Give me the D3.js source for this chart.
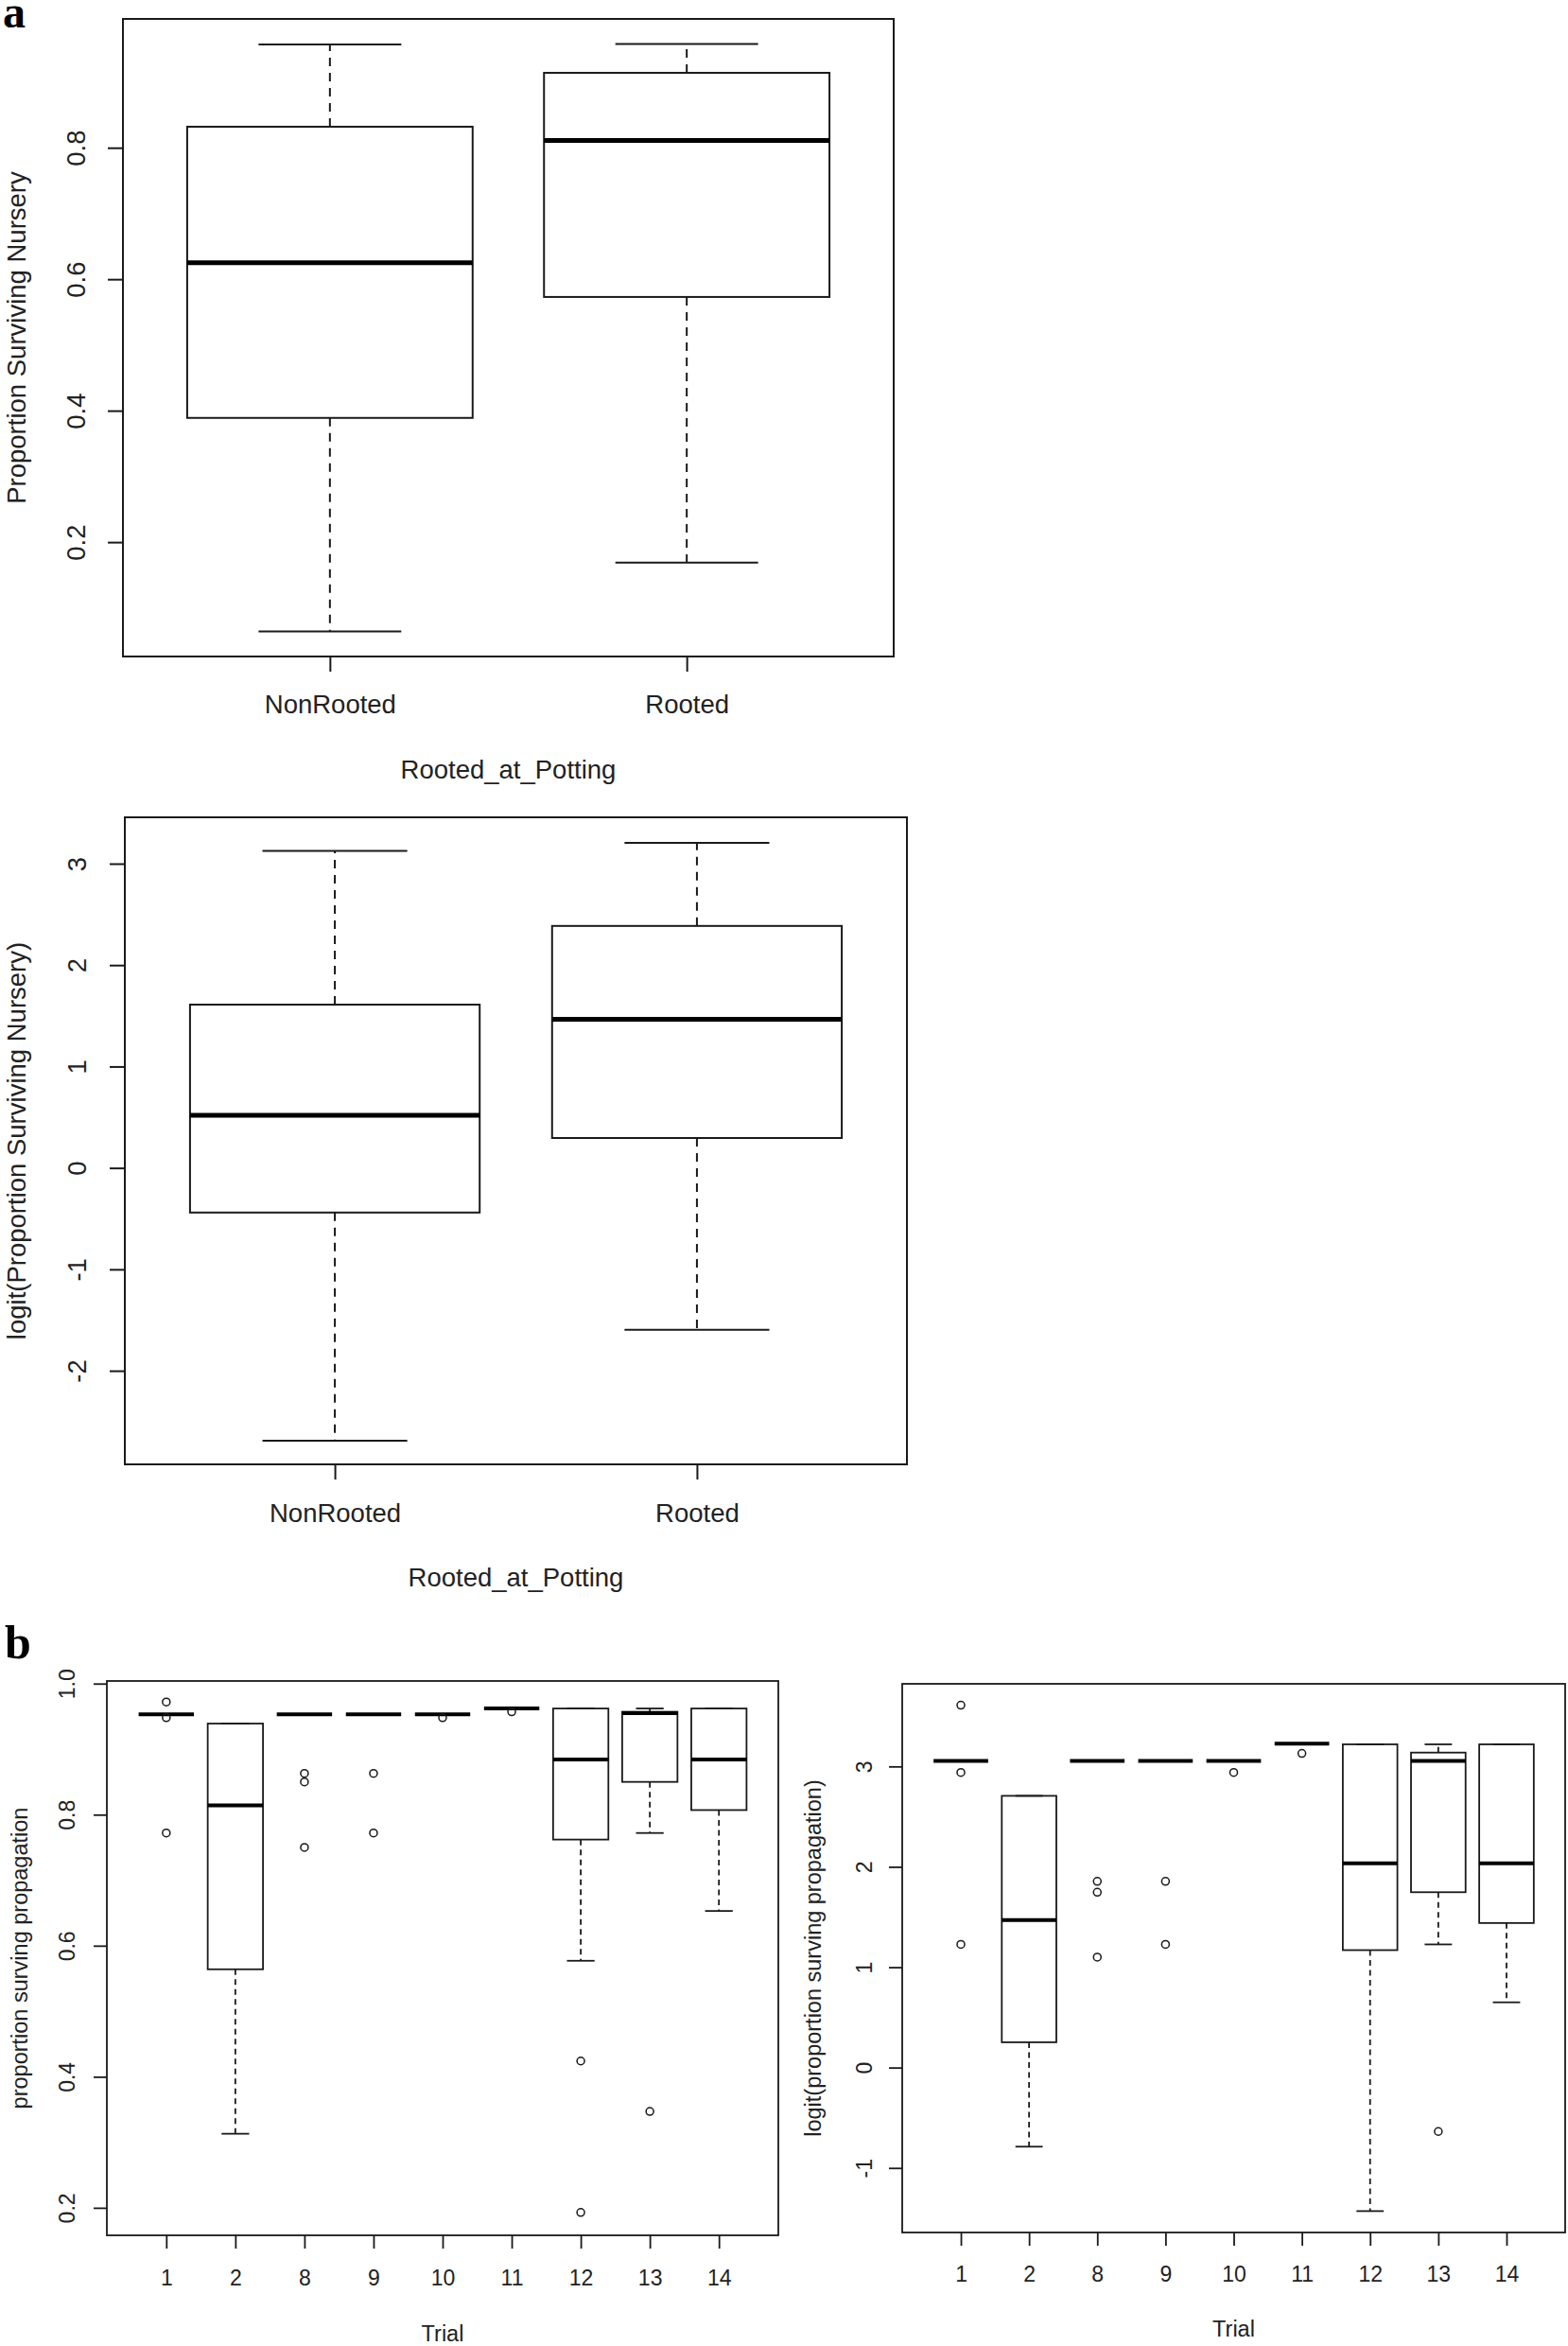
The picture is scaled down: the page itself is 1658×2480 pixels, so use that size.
<!DOCTYPE html>
<html>
<head>
<meta charset="utf-8">
<script src="https://cdn.jsdelivr.net/npm/d3@7"></script>
<style>
  html, body { margin: 0; padding: 0; background: #fff; }
  svg { display: block; }
</style>
</head>
<body>
<script>
// ---------------- DATA ----------------
// Panel a: box statistics [lower whisker, Q1, median, Q3, upper whisker]
const nurseryGroups = ["NonRooted", "Rooted"];
const nurseryPropStats = [
  [0.064, 0.389, 0.625, 0.832, 0.957],
  [0.169, 0.573, 0.811, 0.914, 0.958]
];
const nurseryLogitStats = [
  [-2.69, -0.44, 0.52, 1.61, 3.125],
  [-1.597, 0.295, 1.466, 2.386, 3.205]
];
const nurseryPropTicks = [0.2, 0.4, 0.6, 0.8];
const nurseryLogitTicks = [-2, -1, 0, 1, 2, 3];
const nurseryXTitle = "Rooted_at_Potting";
const nurseryPropTitle = "Proportion Surviving Nursery";
const nurseryLogitTitle = "logit(Proportion Surviving Nursery)";

// Panel b
const trials = ["1", "2", "8", "9", "10", "11", "12", "13", "14"];
const propStats = [
  [0.953, 0.953, 0.953, 0.953, 0.953],
  [0.313, 0.564, 0.814, 0.939, 0.939],
  [0.953, 0.953, 0.953, 0.953, 0.953],
  [0.953, 0.953, 0.953, 0.953, 0.953],
  [0.953, 0.953, 0.953, 0.953, 0.953],
  [0.962, 0.962, 0.962, 0.962, 0.962],
  [0.577, 0.762, 0.884, 0.962, 0.962],
  [0.772, 0.850, 0.955, 0.957, 0.962],
  [0.653, 0.807, 0.884, 0.962, 0.962]
];
const propOutliers = [
  [0.972, 0.948, 0.772],
  [],
  [0.863, 0.850, 0.750],
  [0.863, 0.772],
  [0.948],
  [0.957],
  [0.424, 0.193],
  [0.347],
  []
];
const logitStats = [
  [3.054, 3.054, 3.054, 3.054, 3.054],
  [-0.788, 0.252, 1.47, 2.707, 2.707],
  [3.054, 3.054, 3.054, 3.054, 3.054],
  [3.054, 3.054, 3.054, 3.054, 3.054],
  [3.054, 3.054, 3.054, 3.054, 3.054],
  [3.227, 3.227, 3.227, 3.227, 3.227],
  [-1.43, 1.17, 2.034, 3.22, 3.22],
  [1.227, 1.747, 3.054, 3.138, 3.22],
  [0.65, 1.44, 2.034, 3.22, 3.22]
];
const logitOutliers = [
  [3.61, 2.94, 1.227],
  [],
  [1.855, 1.747, 1.10],
  [1.855, 1.227],
  [2.94],
  [3.13],
  [],
  [-0.637],
  []
];
const propTicks = [0.2, 0.4, 0.6, 0.8, 1.0];
const logitTicks = [-1, 0, 1, 2, 3];
const trialXTitle = "Trial";
const propTitle = "proportion surving propagation";
const logitTitle = "logit(proportion surving propagation)";

// ---------------- DRAWING ----------------
const W = 1658, H = 2480;
const ink = "#1a1a1a";
const txt = "#222";
const sans = "'Liberation Sans', Arial, sans-serif";

const svg = d3.select("body").append("svg")
  .attr("width", W).attr("height", H)
  .attr("viewBox", `0 0 ${W} ${H}`);

svg.append("rect").attr("width", W).attr("height", H).attr("fill", "#fff");

function panel(cfg) {
  const g = svg.append("g");
  const n = cfg.cats.length;
  const x = d3.scaleLinear().domain([0.5 - 0.04 * n, n + 0.5 + 0.04 * n]).range([cfg.left, cfg.right]);
  const y = d3.scaleLinear().domain(cfg.yDomain).range([cfg.bottom, cfg.top]);

  // y axis
  const yg = g.append("g").attr("transform", `translate(${cfg.left},0)`)
    .call(d3.axisLeft(y).tickValues(cfg.yTicks).tickSize(cfg.tick).tickFormat(cfg.fmt));
  yg.select(".domain").remove();
  yg.selectAll(".tick line").attr("stroke", ink).attr("stroke-width", cfg.lw);
  yg.selectAll(".tick text")
    .attr("x", null).attr("dy", "0.36em")
    .attr("transform", `translate(${-cfg.yLabOff},0) rotate(-90)`)
    .attr("text-anchor", "middle")
    .attr("fill", txt)
    .style("font-family", sans).style("font-size", cfg.fs + "px");

  // x axis
  const xg = g.append("g").attr("transform", `translate(0,${cfg.bottom})`)
    .call(d3.axisBottom(x).tickValues(d3.range(1, n + 1)).tickSize(cfg.tick)
      .tickFormat(i => cfg.cats[i - 1]));
  xg.select(".domain").remove();
  xg.selectAll(".tick line").attr("stroke", ink).attr("stroke-width", cfg.lw);
  xg.selectAll(".tick text")
    .attr("y", cfg.xLabOff).attr("dy", null)
    .attr("fill", txt)
    .style("font-family", sans).style("font-size", cfg.fs + "px");

  // titles
  g.append("text")
    .attr("x", (cfg.left + cfg.right) / 2).attr("y", cfg.bottom + cfg.xTitleOff)
    .attr("text-anchor", "middle").attr("fill", txt)
    .style("font-family", sans).style("font-size", cfg.tfs + "px")
    .text(cfg.xTitle);
  g.append("text")
    .attr("transform", `translate(${cfg.yTitleX},${(cfg.top + cfg.bottom) / 2}) rotate(-90)`)
    .attr("dy", "0.36em")
    .attr("text-anchor", "middle").attr("fill", txt)
    .style("font-family", sans).style("font-size", cfg.tfs + "px")
    .text(cfg.yTitle);

  // boxes
  const boxes = g.append("g").selectAll("g.box")
    .data(cfg.stats.map((s, i) => ({ s, i, out: cfg.outliers ? cfg.outliers[i] : [] })))
    .join("g").attr("class", "box");

  boxes.each(function (d) {
    const b = d3.select(this);
    const pos = d.i + 1;
    const xc = x(pos), x0 = x(pos - 0.4), x1 = x(pos + 0.4);
    const s0 = x(pos - 0.2), s1 = x(pos + 0.2);
    const [lo, q1, med, q3, hi] = d.s;
    if (hi > q3) {
      b.append("line").attr("x1", xc).attr("x2", xc).attr("y1", y(q3)).attr("y2", y(hi))
        .attr("stroke", ink).attr("stroke-width", cfg.lw).attr("stroke-dasharray", cfg.dash);
    }
    if (lo < q1) {
      b.append("line").attr("x1", xc).attr("x2", xc).attr("y1", y(q1)).attr("y2", y(lo))
        .attr("stroke", ink).attr("stroke-width", cfg.lw).attr("stroke-dasharray", cfg.dash);
    }
    [lo, hi].forEach(v => {
      b.append("line").attr("x1", s0).attr("x2", s1).attr("y1", y(v)).attr("y2", y(v))
        .attr("stroke", ink).attr("stroke-width", cfg.lw);
    });
    b.append("rect").attr("x", x0).attr("width", x1 - x0)
      .attr("y", y(q3)).attr("height", Math.max(0, y(q1) - y(q3)))
      .attr("fill", "none").attr("stroke", ink).attr("stroke-width", cfg.lw);
    b.append("line").attr("x1", x0).attr("x2", x1).attr("y1", y(med)).attr("y2", y(med))
      .attr("stroke", "#000").attr("stroke-width", cfg.mlw);
    b.selectAll("circle").data(d.out).join("circle")
      .attr("cx", xc).attr("cy", v => y(v)).attr("r", cfg.r)
      .attr("fill", "none").attr("stroke", ink).attr("stroke-width", cfg.lw * 0.85);
  });

  // frame
  g.append("rect")
    .attr("x", cfg.left).attr("y", cfg.top)
    .attr("width", cfg.right - cfg.left).attr("height", cfg.bottom - cfg.top)
    .attr("fill", "none").attr("stroke", ink).attr("stroke-width", cfg.lw);
}

const fmt1 = d3.format(".1f");
const fmtInt = d => String(d);

panel({
  cats: nurseryGroups, stats: nurseryPropStats, outliers: null,
  left: 130, right: 945, top: 20, bottom: 694,
  yDomain: [0.026, 0.996], yTicks: nurseryPropTicks, fmt: fmt1,
  tick: 16, lw: 2, mlw: 5, dash: "9,7", r: 5,
  fs: 27.5, tfs: 27.5, yLabOff: 50, xLabOff: 60, xTitleOff: 129, yTitleX: 17,
  xTitle: nurseryXTitle, yTitle: nurseryPropTitle
});

panel({
  cats: nurseryGroups, stats: nurseryLogitStats, outliers: null,
  left: 132, right: 959, top: 864, bottom: 1548,
  yDomain: [-2.923, 3.457], yTicks: nurseryLogitTicks, fmt: fmtInt,
  tick: 16, lw: 2, mlw: 5, dash: "9,7", r: 5,
  fs: 27.5, tfs: 27.5, yLabOff: 51, xLabOff: 61, xTitleOff: 129, yTitleX: 17.5,
  xTitle: nurseryXTitle, yTitle: nurseryLogitTitle
});

panel({
  cats: trials, stats: propStats, outliers: propOutliers,
  left: 113, right: 823, top: 1777, bottom: 2363,
  yDomain: [0.158, 1.004], yTicks: propTicks, fmt: fmt1,
  tick: 14, lw: 1.8, mlw: 4, dash: "6,4.5", r: 4,
  fs: 23, tfs: 23.5, yLabOff: 42, xLabOff: 53, xTitleOff: 112, yTitleX: 21,
  xTitle: trialXTitle, yTitle: propTitle
});

panel({
  cats: trials, stats: logitStats, outliers: logitOutliers,
  left: 954, right: 1655, top: 1780, bottom: 2360,
  yDomain: [-1.643, 3.823], yTicks: logitTicks, fmt: fmtInt,
  tick: 14, lw: 1.8, mlw: 4, dash: "6,4.5", r: 4,
  fs: 23, tfs: 23.5, yLabOff: 40.5, xLabOff: 52, xTitleOff: 110, yTitleX: 860,
  xTitle: trialXTitle, yTitle: logitTitle
});

// panel letters
svg.append("text").attr("x", 3).attr("y", 29)
  .style("font-family", "'Liberation Serif', 'Times New Roman', serif")
  .style("font-weight", "bold").style("font-size", "48px").attr("fill", "#000")
  .text("a");
svg.append("text").attr("x", 5).attr("y", 1753)
  .style("font-family", "'Liberation Serif', 'Times New Roman', serif")
  .style("font-weight", "bold").style("font-size", "50px").attr("fill", "#000")
  .text("b");
</script>
</body>
</html>
